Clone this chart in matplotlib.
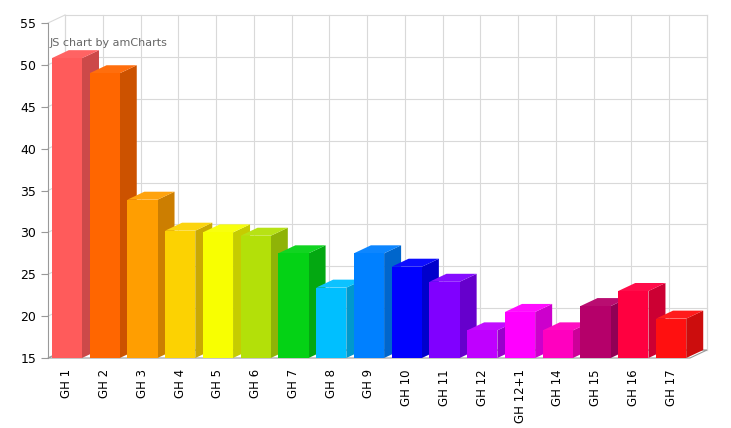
import matplotlib
matplotlib.use("Agg")
import matplotlib.pyplot as plt
from matplotlib.patches import Polygon
from matplotlib.colors import to_rgb

labels = ["GH 1", "GH 2", "GH 3", "GH 4", "GH 5", "GH 6", "GH 7", "GH 8", "GH 9",
          "GH 10", "GH 11", "GH 12", "GH 12+1", "GH 14", "GH 15", "GH 16", "GH 17"]
values = [50.8, 49.0, 33.9, 30.2, 30.0, 29.6, 27.5, 23.4, 27.5,
          25.9, 24.1, 18.3, 20.5, 18.3, 21.2, 23.0, 19.7]
colors = ["#FF5B5B", "#FF6600", "#FF9E01", "#FCD202", "#F8FF01", "#B3E009", "#04D215",
          "#00BFFF", "#0080FF", "#0000FF", "#8000FF", "#BF00FF", "#FF00FF", "#FF00BF",
          "#B5006A", "#FF0040", "#FF1010"]

W, H = 731, 428
fig = plt.figure(figsize=(W / 100, H / 100), dpi=100)
left, right, top, bottom = 48, 690, 23, 358
ax = fig.add_axes([left / W, 1 - bottom / H, (right - left) / W, (bottom - top) / H])
ymin, ymax = 15, 55
n = len(labels)
ax.set_xlim(0, n)
ax.set_ylim(ymin, ymax)
# depth offset in data units
dx = 17 / ((right - left) / n)
dy = 8 / ((bottom - top) / (ymax - ymin))

grid_c = "#d9d9d9"
# back grid + wall
for v in range(ymin, ymax + 1, 5):
    ax.plot([dx, n + dx], [v + dy, v + dy], color=grid_c, lw=0.8, clip_on=False, zorder=0)
    ax.plot([0, dx], [v, v + dy], color=grid_c, lw=0.8, clip_on=False, zorder=0)
for i in range(n + 1):
    ax.plot([i + dx, i + dx], [ymin + dy, ymax + dy], color=grid_c, lw=0.8, clip_on=False, zorder=0)
ax.plot([n + dx, n + dx], [ymin + dy, ymax + dy], color=grid_c, lw=0.8, clip_on=False, zorder=0)
ax.plot([dx, dx], [ymin + dy, ymax + dy], color=grid_c, lw=0.8, clip_on=False, zorder=0)
# floor
ax.add_patch(Polygon([(0, ymin), (n, ymin), (n + dx, ymin + dy), (dx, ymin + dy)],
                     closed=True, fc="none", ec="#999999", lw=0.8, clip_on=False, zorder=0))

bw = 0.8
for i, (v, c) in enumerate(zip(values, colors)):
    rgb = to_rgb(c)
    dark = tuple(x * 0.8 for x in rgb)
    light = tuple(min(1, x * 0.95 + 0.05) for x in rgb)
    x0 = i + (1 - bw) / 2
    x1 = x0 + bw
    ax.add_patch(Polygon([(x1, ymin), (x1 + dx, ymin + dy), (x1 + dx, v + dy), (x1, v)],
                         closed=True, fc=dark, ec="none", clip_on=False, zorder=2 + i))
    ax.add_patch(Polygon([(x0, v), (x1, v), (x1 + dx, v + dy), (x0 + dx, v + dy)],
                         closed=True, fc=light, ec="none", clip_on=False, zorder=2 + i))
    ax.add_patch(Polygon([(x0, ymin), (x1, ymin), (x1, v), (x0, v)],
                         closed=True, fc=c, ec="none", clip_on=False, zorder=2 + i))

for s in ax.spines.values():
    s.set_visible(False)
ax.plot([0, 0], [ymin, ymax], color="#999999", lw=0.8, clip_on=False)
ax.set_yticks(range(ymin, ymax + 1, 5))
ax.set_xticks([i + 0.5 for i in range(n)])
ax.set_xticklabels(labels, rotation=90, fontsize=8.5)
ax.tick_params(axis="y", labelsize=9, length=5, color="#999999")
ax.tick_params(axis="x", length=0, pad=8)
fig.text(50 / W, 1 - 43 / H, "JS chart by amCharts", fontsize=8, color="#666666", va="center")
fig.savefig("out.png", dpi=100)
